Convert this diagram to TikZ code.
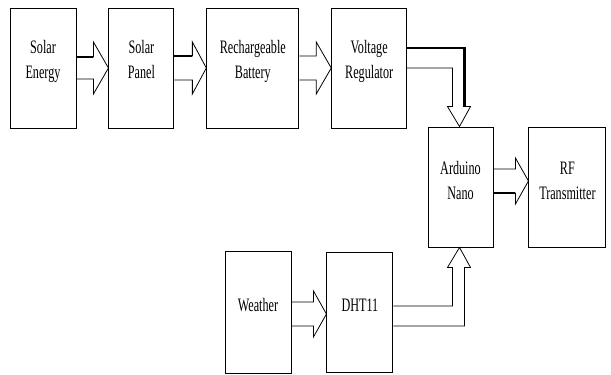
\documentclass[tikz,border=0pt]{standalone}
\usepackage{fontspec}
\setmainfont{Liberation Serif}[FakeStretch=0.64]
\usetikzlibrary{positioning,calc}

\begin{document}
\begin{tikzpicture}[
    x=1pt, y=1pt,
    node distance=32pt and 32pt,
    block/.style={rectangle, draw=black, line width=0.9pt, minimum height=120pt, align=center, inner sep=0pt, text depth=17pt, font=\fontsize{19}{25}\selectfont},
    pipe/.style={line width=0.8pt, line join=miter},
    heavy/.style={line width=2.2pt}
]
    \useasboundingbox (0,0) rectangle (611,375);

    % Top row: energy chain
    \node[block, minimum width=66pt] (solar) at (43,307) {Solar\\Energy};
    \node[block, minimum width=65pt, right=of solar] (panel) {Solar\\Panel};
    \node[block, minimum width=92pt, right=of panel] (battery) {Rechargeable\\Battery};
    \node[block, minimum width=75pt, right=of battery] (regulator) {Voltage\\Regulator};

    % Controller and radio
    \node[block, minimum width=65pt, text depth=13pt] (arduino) at (460.5,188) {Arduino\\Nano};
    \node[block, minimum width=77pt, text depth=12pt, right=35pt of arduino] (rf) {RF\\Transmitter};

    % Sensor row
    \node[block, minimum width=66pt, minimum height=122pt, text depth=15pt] (weather) at (258,63) {Weather};
    \node[block, minimum width=66pt, text depth=13pt, right=35pt of weather] (dht) {DHT11};

    % Hollow arrows, left to right
    \draw[pipe] ($(solar.east)+(0,11)$) -- ($(panel.west)+(-15,11)$) -- ++(0,15) -- (panel.west)
        -- ($(panel.west)+(-15,-26)$) -- ++(0,15) -- ($(solar.east)+(0,-11)$);
    \draw[heavy] ($(solar.east)+(0,11)$) -- ($(panel.west)+(-15,11)$);

    \draw[pipe] ($(panel.east)+(0,12)$) -- ($(battery.west)+(-14,12)$) -- ++(0,14) -- (battery.west)
        -- ($(battery.west)+(-14,-26)$) -- ++(0,14) -- ($(panel.east)+(0,-12)$);
    \draw[heavy] ($(panel.east)+(0,12)$) -- ($(battery.west)+(-14,12)$);

    \draw[pipe] ($(battery.east)+(0,12)$) -- ($(regulator.west)+(-15,12)$) -- ++(0,14) -- (regulator.west)
        -- ($(regulator.west)+(-15,-26)$) -- ++(0,14) -- ($(battery.east)+(0,-12)$);

    \draw[pipe] ($(arduino.east)+(0,18)$) -- ($(rf.west)+(-13,18)$) -- ++(0,11) -- ($(rf.west)+(0,6)$)
        -- ($(rf.west)+(-13,-17)$) -- ++(0,11) -- ($(arduino.east)+(0,-6)$);
    \draw[heavy] ($(arduino.east)+(0,-6)$) -- ($(rf.west)+(-13,-6)$);

    \draw[pipe] ($(weather.east)+(0,10)$) -- ($(dht.west)+(-13,10)$) -- ++(0,11) -- ($(dht.west)+(0,-2)$)
        -- ($(dht.west)+(-13,-25)$) -- ++(0,11) -- ($(weather.east)+(0,-14)$);

    % Hollow arrows into the Arduino
    \draw[pipe] ($(regulator.east)+(0,20)$) -| ($(arduino.north)+(4,20)$) -- ($(arduino.north)+(10,20)$)
        -- ($(arduino.north)+(-1,0)$) -- ($(arduino.north)+(-13,20)$) -- ($(arduino.north)+(-8,20)$)
        |- (regulator.east);
    \draw[heavy] ($(regulator.east)+(0,20)$) -| ($(arduino.north)+(4,20)$);

    \draw[pipe] ($(dht.east)+(0,-14)$) -| ($(arduino.south)+(4,-20)$) -- ($(arduino.south)+(10,-20)$)
        -- ($(arduino.south)+(-1,0)$) -- ($(arduino.south)+(-13,-20)$) -- ($(arduino.south)+(-8,-20)$)
        |- ($(dht.east)+(0,6)$);
\end{tikzpicture}
\end{document}
